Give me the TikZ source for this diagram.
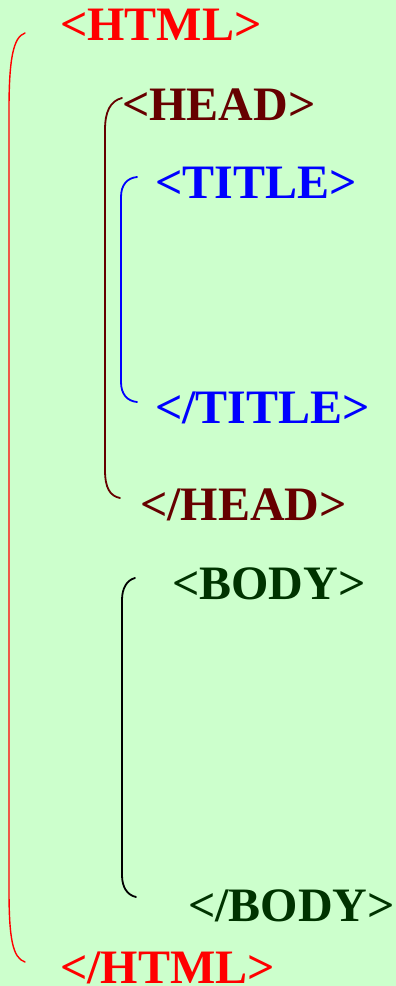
\documentclass[tikz,border=0pt]{standalone}
\usepackage{fontspec}
\setmainfont{Liberation Serif}
\definecolor{bg}{HTML}{CCFFCC}
\definecolor{htmlc}{HTML}{FF0000}
\definecolor{headc}{HTML}{660000}
\definecolor{titlec}{HTML}{0000FF}
\definecolor{bodyc}{HTML}{003300}
\begin{document}
\begin{tikzpicture}[x=1pt,y=-1pt,
  tag/.style={anchor=base west,inner sep=0pt,font=\fontsize{48}{48}\selectfont\bfseries},
  brace/.style={line width=1.8pt,line cap=round}]
\fill[bg] (0,0) rectangle (396,986);
\useasboundingbox (0,0) rectangle (396,986);
\node[tag,text=htmlc] (html) at (60,40) {<HTML>};
\node[tag,text=headc] (head) at (122,120) {<HEAD>};
\node[tag,text=titlec] (title) at (155,198) {<TITLE>};
\node[tag,text=titlec] (etitle) at (155,423) {</TITLE>};
\node[tag,text=headc] (ehead) at (140,520) {</HEAD>};
\node[tag,text=bodyc] (body) at (172,599) {<BODY>};
\node[tag,text=bodyc] (ebody) at (188,921) {</BODY>};
\node[tag,text=htmlc] (ehtml) at (60,983) {</HTML>};
% brackets
\draw[brace,htmlc,line width=1.4pt] (25,33) .. controls (13,37) and (9,60) .. (9,110) -- (9,890) .. controls (9,940) and (13,958) .. (25,962);
\draw[brace,headc] (122,98) .. controls (110,101) and (105,112) .. (105,130) -- (105,470) .. controls (105,488) and (110,496) .. (120,498);
\draw[brace,titlec] (137,177) .. controls (127,178) and (121,185) .. (121,197) -- (121,382) .. controls (121,394) and (127,401) .. (137,402);
\draw[brace,black] (135,578) .. controls (127,580) and (122,588) .. (122,600) -- (122,875) .. controls (122,887) and (127,895) .. (136,897);
\end{tikzpicture}
\end{document}
